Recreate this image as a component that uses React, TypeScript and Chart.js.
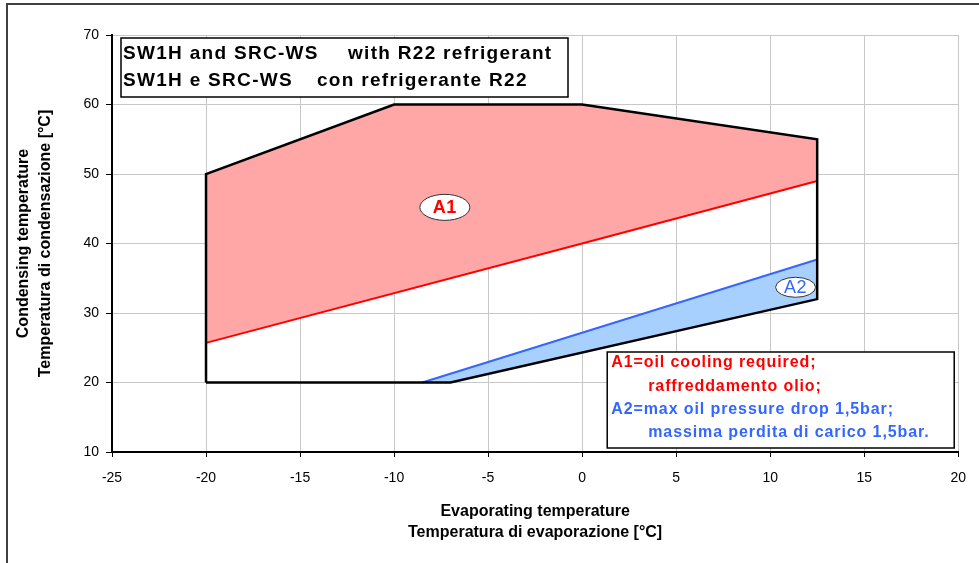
import React, { useEffect, useRef } from 'react';
import { Chart, registerables } from 'chart.js';

Chart.register(...registerables);

// ---- Axis ranges / ticks ----
const xMin = -25;
const xMax = 20;
const xStep = 5;
const yMin = 10;
const yMax = 70;
const yStep = 10;

// ---- Operating envelope (black outline) ----
const envelopeEvap = [-20, -20, -10, 0, 12.5, 12.5, -7, -20];
const envelopeCond = [20, 50, 60, 60, 55, 32, 20, 20];

// ---- A1 limit: oil cooling required (red line) ----
const oilCoolingEvap = [-20, 0, 12.5];
const oilCoolingCond = [25.7, 40, 49];

// ---- A2 limit: max oil pressure drop (blue line) ----
const pressureDropEvap = [-8.5, 12.5];
const pressureDropCond = [20, 37.7];

// ---- Area labels ----
const areaLabels = ['A1', 'A2'];
const areaLabelEvap = [-7.3, 11.35];
const areaLabelCond = [45.2, 33.7];

// ---- Texts ----
const xTitleLines = ['Evaporating temperature', 'Temperatura di evaporazione [°C]'];
const yTitleLines = ['Condensing temperature', 'Temperatura di condensazione [°C]'];
const headerLine1 = ['SW1H and SRC-WS', 'with R22 refrigerant'];
const headerLine2 = ['SW1H e SRC-WS', 'con refrigerante R22'];
const legendLines = [
  'A1=oil cooling required;',
  'raffreddamento olio;',
  'A2=max oil pressure drop 1,5bar;',
  'massima perdita di carico 1,5bar.',
];

const FONT = '"Liberation Sans", Arial, sans-serif';
const RED = '#FF0000';
const BLUE = '#3366FF';
const PINK_FILL = '#FFA6A6';
const BLUE_FILL = '#A8D0FF';

const pts = (xs: number[], ys: number[]) => xs.map((x, i) => ({ x, y: ys[i] }));

const envelope = pts(envelopeEvap, envelopeCond);
const redLine = pts(oilCoolingEvap, oilCoolingCond);
const blueLine = pts(pressureDropEvap, pressureDropCond);
// A1 area: red line then upper envelope boundary back to the left
const pinkArea = [...redLine, envelope[4], envelope[3], envelope[2], envelope[1]];
// A2 area: blue line then lower envelope boundary back to the left
const blueArea = [...blueLine, envelope[5], envelope[6]];

const overlayPlugin = {
  id: 'overlay',
  afterDatasetsDraw(chart: any) {
    const { ctx, chartArea: ca, scales } = chart;
    ctx.save();
    const setLS = (v: string) => {
      try { (ctx as any).letterSpacing = v; } catch (e) { /* ignore */ }
    };

    // Header box
    const hx = ca.left + 9, hy = ca.top + 3, hw = 447, hh = 59;
    ctx.fillStyle = '#fff';
    ctx.fillRect(hx, hy, hw, hh);
    ctx.strokeStyle = '#000';
    ctx.lineWidth = 1.5;
    ctx.strokeRect(hx, hy, hw, hh);
    ctx.fillStyle = '#000';
    ctx.font = `bold 19px ${FONT}`;
    ctx.textBaseline = 'middle';
    ctx.textAlign = 'left';
    setLS('1.3px');
    ctx.fillText(headerLine1[0], hx + 2, hy + 16);
    ctx.fillText(headerLine1[1], hx + 227, hy + 16);
    ctx.fillText(headerLine2[0], hx + 2, hy + 43);
    ctx.fillText(headerLine2[1], hx + 196, hy + 43);

    // Legend box
    const lw = 347, lh = 96;
    const lx = ca.right - 4 - lw, ly = ca.bottom - 4 - lh;
    ctx.fillStyle = '#fff';
    ctx.fillRect(lx, ly, lw, lh);
    ctx.strokeStyle = '#000';
    ctx.lineWidth = 1.5;
    ctx.strokeRect(lx, ly, lw, lh);
    ctx.font = `bold 16px ${FONT}`;
    setLS('0.9px');
    ctx.fillStyle = RED;
    ctx.fillText(legendLines[0], lx + 4, ly + 11);
    ctx.fillText(legendLines[1], lx + 41, ly + 35);
    ctx.fillStyle = BLUE;
    ctx.fillText(legendLines[2], lx + 4, ly + 58);
    ctx.fillText(legendLines[3], lx + 41, ly + 81);

    // Area labels (ellipses)
    const sizes = [[25, 13], [20, 10]];
    const colors = [RED, BLUE];
    const weights = ['bold', 'normal'];
    areaLabels.forEach((lab, i) => {
      const cx = scales.x.getPixelForValue(areaLabelEvap[i]);
      const cy = scales.y.getPixelForValue(areaLabelCond[i]);
      ctx.beginPath();
      ctx.ellipse(cx, cy, sizes[i][0], sizes[i][1], 0, 0, Math.PI * 2);
      ctx.fillStyle = '#fff';
      ctx.fill();
      ctx.strokeStyle = '#333';
      ctx.lineWidth = 1;
      ctx.stroke();
      ctx.fillStyle = colors[i];
      ctx.font = `${weights[i]} 18px ${FONT}`;
      ctx.textAlign = 'center';
      setLS('0.5px');
      ctx.fillText(lab, cx, cy + 1);
    });
    setLS('0px');
    ctx.restore();
  },
  afterDraw(chart: any) {
    const { ctx, width, height } = chart;
    ctx.save();
    ctx.strokeStyle = '#404040';
    ctx.lineWidth = 2;
    ctx.beginPath();
    ctx.moveTo(7, height);
    ctx.lineTo(7, 4);
    ctx.lineTo(width, 4);
    ctx.stroke();
    ctx.restore();
  },
};

export default function App() {
  const ref = useRef<HTMLCanvasElement>(null);

  useEffect(() => {
    if (!ref.current) return;
    Chart.defaults.font.family = FONT;
    Chart.defaults.color = '#000';
    const chart = new Chart(ref.current, {
      type: 'line',
      data: {
        datasets: [
          {
            label: 'A1 area',
            data: pinkArea,
            fill: 'shape',
            backgroundColor: PINK_FILL,
            borderWidth: 0,
            borderColor: 'rgba(0,0,0,0)',
            pointRadius: 0,
            tension: 0,
            order: 5,
          },
          {
            label: 'A2 area',
            data: blueArea,
            fill: 'shape',
            backgroundColor: BLUE_FILL,
            borderWidth: 0,
            borderColor: 'rgba(0,0,0,0)',
            pointRadius: 0,
            tension: 0,
            order: 4,
          },
          {
            label: 'Oil cooling limit',
            data: redLine,
            borderColor: RED,
            borderWidth: 2,
            pointRadius: 0,
            fill: false,
            tension: 0,
            order: 3,
          },
          {
            label: 'Oil pressure drop limit',
            data: blueLine,
            borderColor: BLUE,
            borderWidth: 2,
            pointRadius: 0,
            fill: false,
            tension: 0,
            order: 2,
          },
          {
            label: 'Envelope',
            data: envelope,
            borderColor: '#000',
            borderWidth: 2.5,
            pointRadius: 0,
            fill: false,
            tension: 0,
            borderJoinStyle: 'miter',
            order: 1,
          },
        ],
      } as any,
      options: {
        animation: false,
        responsive: true,
        maintainAspectRatio: false,
        layout: { padding: { top: 35, right: 19, bottom: 0, left: 0 } },
        plugins: {
          legend: { display: false },
          tooltip: { enabled: false },
        },
        elements: { line: { tension: 0 } },
        scales: {
          x: {
            type: 'linear',
            min: xMin,
            max: xMax,
            ticks: { stepSize: xStep, padding: 13, color: '#000', font: { size: 14 } },
            grid: { color: '#c8c8c8', tickColor: '#000', tickLength: 5, lineWidth: 1 },
            border: { color: '#000', width: 2 },
            title: {
              display: true,
              text: xTitleLines,
              color: '#000',
              font: { size: 16, weight: 'bold', lineHeight: 1.3125 },
              padding: { top: 0, bottom: 20 },
            },
            afterFit: (s: any) => { s.height = 111; },
          },
          y: {
            type: 'linear',
            min: yMin,
            max: yMax,
            ticks: { stepSize: yStep, padding: 7, color: '#000', font: { size: 14 } },
            grid: { color: '#c8c8c8', tickColor: '#000', tickLength: 6, lineWidth: 1 },
            border: { color: '#000', width: 2 },
            title: {
              display: true,
              text: yTitleLines,
              color: '#000',
              font: { size: 16, weight: 'bold', lineHeight: 1.375 },
              padding: { top: 13, bottom: 0 },
            },
            afterFit: (s: any) => { s.width = 112; },
          },
        },
      } as any,
      plugins: [overlayPlugin],
    });
    return () => chart.destroy();
  }, []);

  return (
    <div style={{ position: 'fixed', left: 0, top: 0, width: 979, height: 563, background: '#fff' }}>
      <canvas ref={ref} />
    </div>
  );
}
